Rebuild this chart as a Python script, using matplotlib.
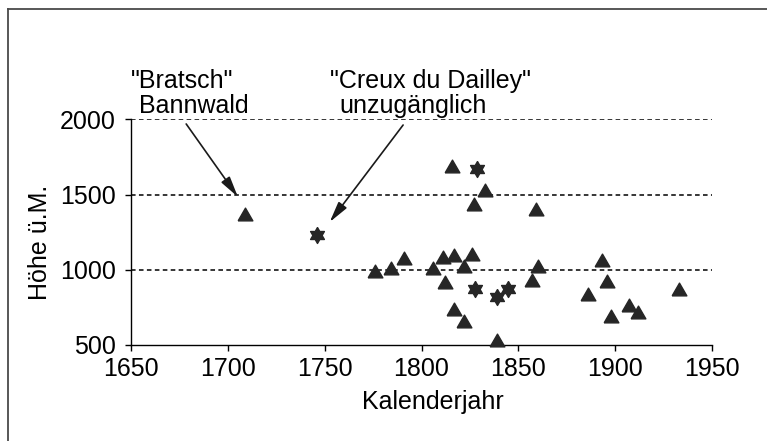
import numpy as np
import matplotlib
matplotlib.use("Agg")
import matplotlib.pyplot as plt
from matplotlib.lines import Line2D

plt.rcParams['font.family'] = ['Liberation Sans', 'DejaVu Sans']

# Data
tri_years = [1709, 1776, 1784, 1791, 1806, 1811, 1812, 1816, 1817, 1817, 1822, 1822,
             1826, 1827, 1833, 1839, 1857, 1859, 1860, 1886, 1893, 1896, 1898, 1907,
             1912, 1933]
tri_heights = [1369, 995, 1013, 1080, 1011, 1084, 917, 1689, 1095, 740, 1022, 662,
               1107, 1440, 1533, 533, 929, 1407, 1024, 840, 1062, 924, 695, 769,
               722, 869]
star_years = [1746, 1828.6, 1827.6, 1838.8, 1844.8]
star_heights = [1229, 1673, 873, 817, 873]

x_ticks = [1650, 1700, 1750, 1800, 1850, 1900, 1950]
y_ticks = [500, 1000, 1500, 2000]
grid_levels = [1000, 1500, 2000]

W, H = 767, 441
fig = plt.figure(figsize=(W / 100, H / 100), dpi=100)
ax = fig.add_axes([131 / W, 1 - 345 / H, (712 - 131) / W, (345 - 119.3) / H])
ax.set_xlim(1650, 1950)
ax.set_ylim(500, 2000)

mc = '#262626'
for g in grid_levels:
    ax.axhline(g, color='black', lw=1.1, linestyle=(0, (3, 2.2)), zorder=1)

# markers
tri = [(-1, -0.866), (1, -0.866), (0, 0.866), (-1, -0.866)]
ri = 1 / np.sqrt(3)
star = []
for k in range(6):
    a_out = np.deg2rad(90 + 60 * k)
    a_in = np.deg2rad(120 + 60 * k)
    star.append((np.cos(a_out), np.sin(a_out)))
    star.append((ri * np.cos(a_in), ri * np.sin(a_in)))
star.append(star[0])

ax.plot(tri_years, tri_heights, linestyle='none', marker=tri, ms=10.6,
        color=mc, mec=mc, clip_on=False, zorder=3)
ax.plot(star_years, star_heights, linestyle='none', marker=star, ms=11.5,
        color=mc, mec=mc, clip_on=False, zorder=3)

for s in ['top', 'right']:
    ax.spines[s].set_visible(False)
for s in ['left', 'bottom']:
    ax.spines[s].set_linewidth(1.0)
    ax.spines[s].set_color('black')

fs = 18
ax.set_xticks(x_ticks)
ax.set_yticks(y_ticks)
ax.tick_params(axis='both', direction='out', length=4, width=1.0, labelsize=fs)
ax.tick_params(axis='x', pad=5)
ax.tick_params(axis='y', pad=7)

# annotations
ax.text(1650, 2211, '"Bratsch"', fontsize=fs, ha='left', va='baseline', clip_on=False)
ax.text(1654.3, 2044, 'Bannwald', fontsize=fs, ha='left', va='baseline', clip_on=False)
ax.text(1752.6, 2211, '"Creux du Dailley"', fontsize=fs, ha='left', va='baseline', clip_on=False)
ax.text(1757.4, 2044, 'unzugänglich', fontsize=fs, ha='left', va='baseline', clip_on=False)

ap = dict(arrowstyle='-|>,head_width=0.22,head_length=0.9', color='#1a1a1a', lw=1.2,
          shrinkA=0, shrinkB=0, mutation_scale=14)
ax.annotate('', xy=(1705.2, 1484), xytext=(1678.5, 1969), arrowprops=ap, annotation_clip=False)
ax.annotate('', xy=(1752.6, 1317), xytext=(1790.5, 1962), arrowprops=ap, annotation_clip=False)

# axis labels
fig.text(433 / W, 1 - 409 / H, 'Kalenderjahr', fontsize=fs, ha='center', va='baseline')
fig.text(40 / W, 1 - 242 / H, 'Höhe ü.M.', fontsize=fs, ha='center', va='center', rotation=90)

# frame (left and top)
fc = '#4a4a4a'
fig.add_artist(Line2D([7.5 / W, 7.5 / W], [0, 1 - 9 / H], transform=fig.transFigure,
                      color=fc, lw=1.3))
fig.add_artist(Line2D([7.5 / W, 1], [1 - 9 / H, 1 - 9 / H], transform=fig.transFigure,
                      color=fc, lw=1.3))

fig.savefig('out.png', dpi=100)
